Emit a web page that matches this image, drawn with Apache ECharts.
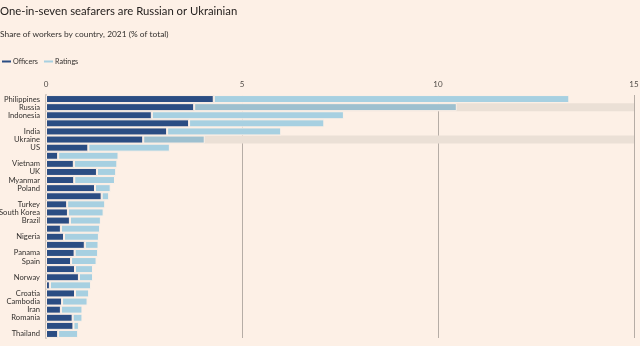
<!DOCTYPE html>
<html><head><meta charset="utf-8">
<script src="https://cdn.jsdelivr.net/npm/echarts@6/dist/echarts.min.js"></script>
<style>html,body{margin:0;padding:0;background:#fdf0e6;}#c{width:640px;height:346px;}</style>
</head><body><div id="c"></div>
<script>
const categories = ['Philippines','Russia','Indonesia','','India','Ukraine','US','','Vietnam','UK','Myanmar','Poland','','Turkey','South Korea','Brazil','','Nigeria','','Panama','Spain','','Norway','','Croatia','Cambodia','Iran','Romania','','Thailand'];
const officers = [4.28,3.78,2.70,3.65,3.09,2.48,1.08,0.31,0.71,1.30,0.72,1.25,1.42,0.54,0.56,0.61,0.38,0.46,0.99,0.73,0.64,0.74,0.84,0.10,0.74,0.41,0.38,0.68,0.70,0.31];
const ratings = [9.07,6.70,4.90,3.45,2.91,1.57,2.08,1.54,1.11,0.49,1.04,0.40,0.19,0.97,0.91,0.79,1.00,0.89,0.35,0.60,0.65,0.46,0.36,1.05,0.36,0.65,0.55,0.25,0.14,0.51];
const highlight = [null,15,null,null,null,15,null,null,null,null,null,null,null,null,null,null,null,null,null,null,null,null,null,null,null,null,null,null,null,null];
const xTicks = [0,5,10,15];
const keyRows = [1,5];

const uniq = categories.map((c,i)=>c===''?' '.repeat(i+1):c);
const chart = echarts.init(document.getElementById('c'));
const font = 'Lato, "Open Sans", sans-serif';
chart.setOption({
  backgroundColor:'#fdf0e6',
  animation:false,
  textStyle:{fontFamily:font},
  title:[
    {text:'One-in-seven seafarers are Russian or Ukrainian',left:0,top:6,padding:0,textStyle:{fontSize:11.3,fontWeight:'normal',color:'#262220',fontFamily:font}},
    {text:'Share of workers by country, 2021 (% of total)',left:0,top:30,padding:0,textStyle:{fontSize:8.4,fontWeight:'normal',color:'#33302e',fontFamily:font}}
  ],
  legend:{left:0,top:58,padding:0,itemWidth:11,itemHeight:4,itemGap:4,icon:'rect',
    data:['Officers','Ratings'],textStyle:{fontSize:7.2,color:'#33302e',padding:[0,0,0,-4]}},
  grid:{left:46,right:6,top:95,bottom:8,containLabel:false,outerBoundsMode:'none'},
  xAxis:{type:'value',position:'top',min:0,max:15,interval:5,
    axisLine:{show:false},axisTick:{show:false},
    axisLabel:{fontSize:8,color:'#4f4a46',margin:7},
    splitLine:{lineStyle:{color:'#b6ada6',width:1}}},
  yAxis:{type:'category',inverse:true,data:uniq,
    axisLine:{show:true,lineStyle:{color:'#ccc2b9',width:2}},axisTick:{show:false},
    axisLabel:{interval:0,fontSize:7.6,color:'#33302e',margin:6,formatter:v=>v.trim()}},
  series:[
    {name:'hl',type:'bar',data:highlight,barWidth:8,barGap:'-100%',silent:true,
      itemStyle:{color:'#ebe0d6'}},
    {name:'Officers',type:'bar',stack:'a',data:officers,barWidth:8,barGap:'-100%',
      itemStyle:{color:'#2b4d83',borderColor:'#fdf0e6',borderWidth:1}},
    {name:'Ratings',type:'bar',stack:'a',barWidth:8,barGap:'-100%',
      data:ratings.map((v,i)=>keyRows.includes(i)?{value:v,itemStyle:{color:'#9ec0cf'}}:v),
      itemStyle:{color:'#a7d0e1',borderColor:'#fdf0e6',borderWidth:1}}
  ]
});
</script></body></html>
